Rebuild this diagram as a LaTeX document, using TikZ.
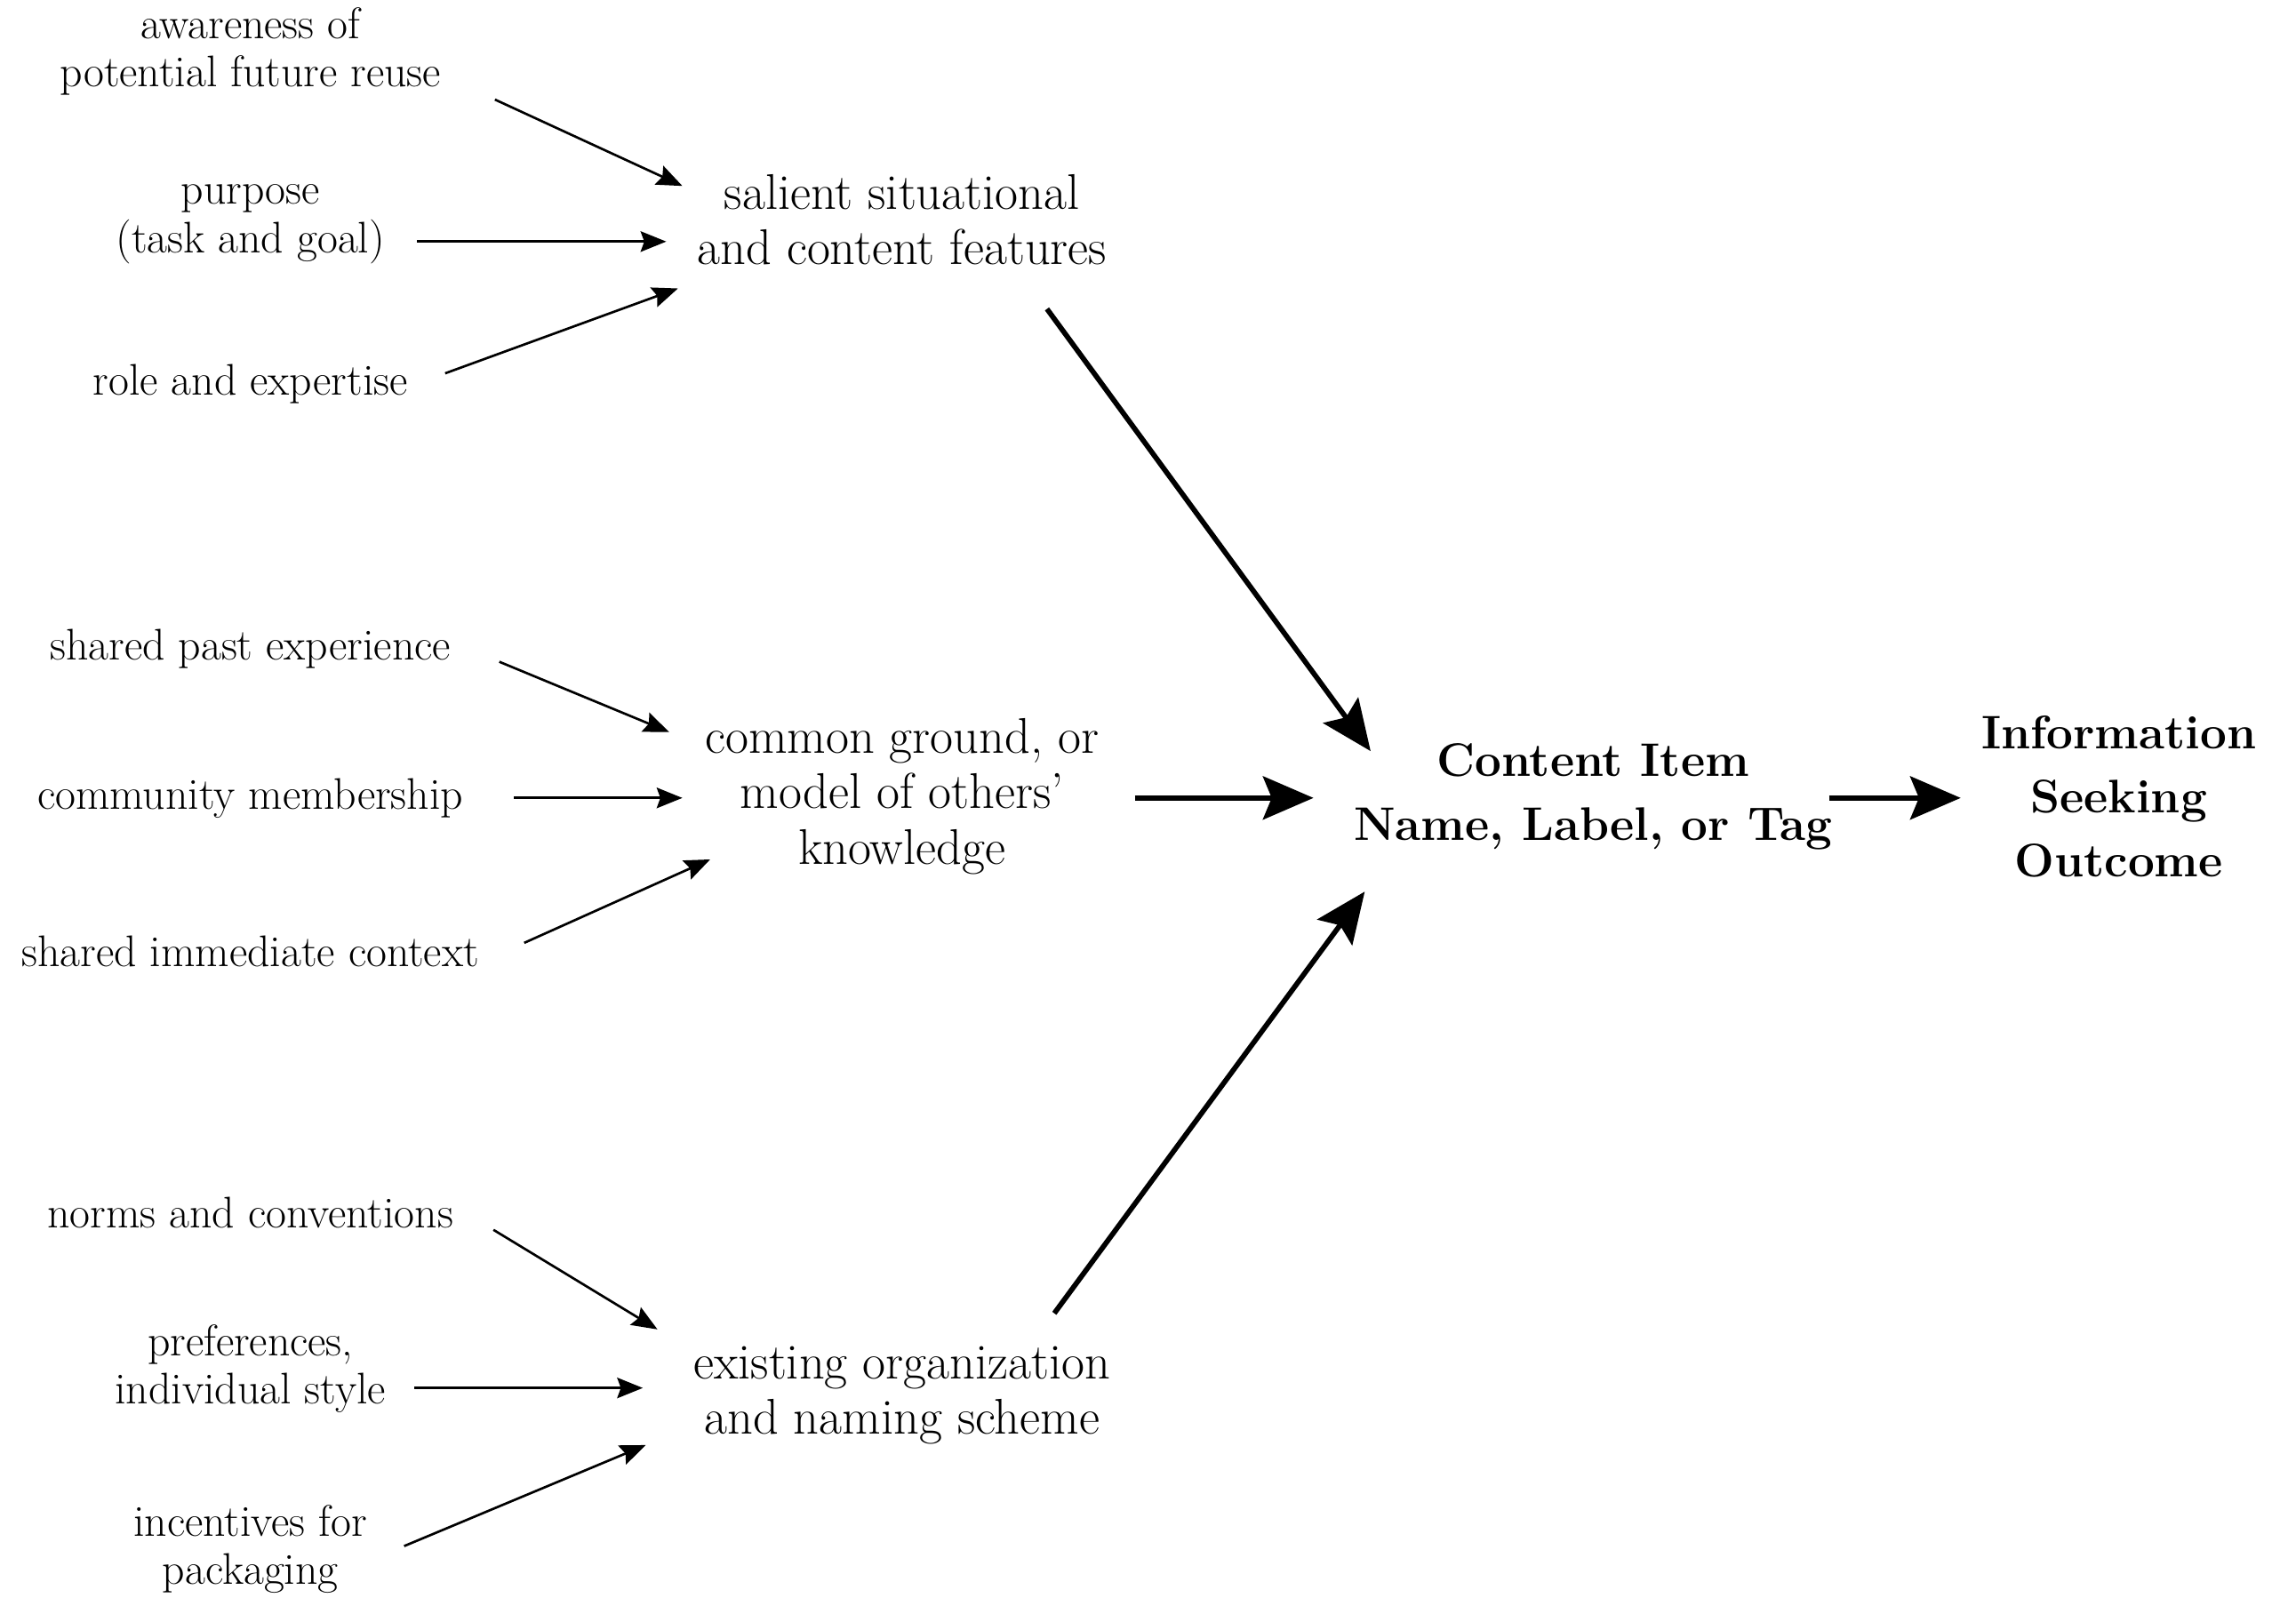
\documentclass[tikz,border=0pt]{standalone}
\usetikzlibrary{positioning, arrows.meta}

\tikzset{
    cause/.style={align=center, inner sep=0pt, font=\fontsize{17.2}{18.8}\selectfont},
    factor/.style={align=center, inner sep=0pt, font=\fontsize{19.5}{21.6}\selectfont},
    result/.style={align=center, inner sep=0pt, font=\fontsize{18.3}{25}\selectfont\bfseries},
    feed/.style={line width=0.92pt, -{Stealth[length=0.35cm, width=0.28cm, inset=0.05cm]}},
    lead/.style={line width=2pt, -{Stealth[length=0.69cm, width=0.59cm, inset=0.12cm]}}
}

\begin{document}
\begin{tikzpicture}[x=0.02cm, y=-0.02cm]
    \useasboundingbox (0,0) rectangle (1568,1091);

    % left column
    \node[cause] (aware) at (171,35) {awareness of\\potential future reuse};
    \node[cause] (purpose) at (171,153) {purpose\\(task and goal)};
    \node[cause] (role) at (171,262) {role and expertise};

    \node[cause] (past) at (171,443) {shared past experience};
    \node[cause] (community) at (171,545) {community membership};
    \node[cause] (context) at (171,650) {shared immediate context};

    \node[cause] (norms) at (171,828) {norms and conventions};
    \node[cause] (prefs) at (171,935) {preferences,\\individual style};
    \node[cause] (incent) at (171,1058) {incentives for\\packaging};

    % middle column
    \node[factor] (salient) at (616,150) {salient situational\\and content features};
    \node[factor] (common) at (616,544) {common ground, or\\model of others'\\knowledge};
    \node[factor] (existing) at (616,953) {existing organization\\and naming scheme};

    % right side
    \node[result] (item) at (1088,544) {Content Item\\Name, Label, or Tag};
    \node[result] (outcome) at (1447,544) {Information\\Seeking\\Outcome};

    \draw[feed] ([shift={(167,33)}]aware.center) -- ([shift={(-150,-23)}]salient.center);
    \draw[feed] ([shift={(114,12)}]purpose.center) -- ([shift={(-161,15)}]salient.center);
    \draw[feed] ([shift={(133,-7)}]role.center) -- ([shift={(-153,47)}]salient.center);

    \draw[feed] ([shift={(170,9)}]past.center) -- ([shift={(-159,-44)}]common.center);
    \draw[feed] ([shift={(180,0)}]community.center) -- ([shift={(-150,1)}]common.center);
    \draw[feed] ([shift={(187,-6)}]context.center) -- ([shift={(-131,43)}]common.center);

    \draw[feed] ([shift={(166,12)}]norms.center) -- ([shift={(-167,-45)}]existing.center);
    \draw[feed] ([shift={(112,13)}]prefs.center) -- ([shift={(-177,-5)}]existing.center);
    \draw[feed] ([shift={(105,-2)}]incent.center) -- ([shift={(-175,34)}]existing.center);

    \draw[lead] ([shift={(99,61)}]salient.center) -- ([shift={(-152,-31)}]item.center);
    \draw[lead] ([shift={(159,1)}]common.center) -- ([shift={(-191,1)}]item.center);
    \draw[lead] ([shift={(104,-56)}]existing.center) -- ([shift={(-156,65)}]item.center);
    \draw[lead] ([shift={(161,1)}]item.center) -- ([shift={(-108,1)}]outcome.center);
\end{tikzpicture}
\end{document}
